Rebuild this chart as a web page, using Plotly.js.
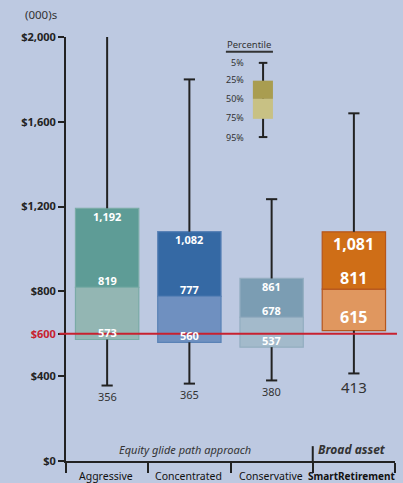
<!DOCTYPE html>
<html>
<head>
<meta charset="utf-8">
<script src="https://cdn.plot.ly/plotly-3.0.1.min.js"></script>
<style>html,body{margin:0;padding:0;background:#bdc9e1;}#chart{width:403px;height:483px;}</style>
</head>
<body>
<div id="chart"></div>
<script>
// ---- data ----
const categories = ['Aggressive', 'Concentrated', 'Conservative', 'SmartRetirement'];
const categoryLabels = ['Aggressive', 'Concentrated', 'Conservative', '<b>SmartRetirement</b>'];
const p5  = [2000, 1800, 1235, 1640];   // top whisker
const p25 = [1192, 1082, 861, 1081];    // box top
const p50 = [819, 777, 678, 811];       // median
const p75 = [573, 560, 537, 615];       // box bottom
const p95 = [356, 365, 380, 413];       // bottom whisker
const yTickVals = [0, 400, 600, 800, 1200, 1600, 2000];
const yTickText = ['$0', '$400', '<span style="color:#c8202f">$600</span>', '$800', '$1,200', '$1,600', '$2,000'];
const threshold = 600;
const legendLabels = ['5%', '25%', '50%', '75%', '95%'];

// ---- styles ----
const upperColors = ['#5e9c96', '#3569a4', '#7b9db3', '#cf6e17'];
const lowerColors = ['#93b6b3', '#6f90c0', '#a3bacb', '#e0975f'];
const lineColors  = ['#7aaba6', '#5a82b6', '#93adc0', '#b5561c'];
const font = 'Noto Sans, sans-serif';
const dark = '#222';
const yMax = 2000;

const fmt = v => v.toLocaleString('en-US');

const traces = [];
traces.push({
  type: 'bar', x: categories, base: p75, y: p50.map((v, i) => v - p75[i]),
  width: 0.77, marker: {color: lowerColors, line: {color: lineColors, width: 1.2}},
  hoverinfo: 'skip', showlegend: false
});
traces.push({
  type: 'bar', x: categories, base: p50, y: p25.map((v, i) => v - p50[i]),
  width: 0.77, marker: {color: upperColors, line: {color: lineColors, width: 1.2}},
  hoverinfo: 'skip', showlegend: false
});
// whiskers
const wx = [], wy = [];
categories.forEach((c, i) => {
  wx.push(c, c, null, c, c, null);
  wy.push(p95[i], p75[i], null, p25[i], p5[i], null);
});
traces.push({type: 'scatter', mode: 'lines', x: wx, y: wy, line: {color: dark, width: 2}, hoverinfo: 'skip', showlegend: false});
// caps
const cx = [], cy = [];
categories.forEach((c, i) => {
  cx.push(c); cy.push(p95[i]);
  if (p5[i] < yMax) { cx.push(c); cy.push(p5[i]); }
});
traces.push({type: 'scatter', mode: 'markers', x: cx, y: cy,
  marker: {symbol: 'line-ew', size: 8, line: {color: dark, width: 2}}, hoverinfo: 'skip', showlegend: false});

const annotations = [];
const ann = o => annotations.push(Object.assign({showarrow: false, xanchor: 'center', yanchor: 'middle'}, o));
categories.forEach((c, i) => {
  const big = i === 3;
  const fs = big ? 16 : 11;
  const wf = {family: font, size: fs, color: '#fff'};
  ann({x: c, y: p25[i], text: '<b>' + fmt(p25[i]) + '</b>', font: wf, yshift: big ? -12 : -8});
  ann({x: c, y: p50[i], text: '<b>' + fmt(p50[i]) + '</b>', font: wf, yshift: big ? 11 : 7});
  ann({x: c, y: p75[i], text: '<b>' + fmt(p75[i]) + '</b>', font: wf, yshift: big ? 14 : 7});
  ann({x: c, y: p95[i], text: fmt(p95[i]), font: {family: font, size: big ? 15 : 11, color: '#333'}, yshift: big ? -14 : -11});
  ann({x: c, xref: 'x', y: -0.035, yref: 'paper', text: categoryLabels[i],
    font: {family: font, size: big ? 10 : 10.5, color: '#111'}, xshift: big ? -2 : -1});
});
ann({x: -0.076, y: 1.052, xref: 'paper', yref: 'paper', text: '(000)s', font: {family: font, size: 11.5, color: '#333'}});
ann({x: 0.362, y: 0.026, xref: 'paper', yref: 'paper', text: '<i>Equity glide path approach</i>', font: {family: font, size: 11, color: '#333'}});
ann({x: 0.869, y: 0.027, xref: 'paper', yref: 'paper', text: '<b><i>Broad asset</i></b>', font: {family: font, size: 12, color: '#333'}});
// legend labels
ann({x: 0.556, y: 0.983, xref: 'paper', yref: 'paper', text: 'Percentile', font: {family: font, size: 9.5, color: '#333'}});
const legY = [0.939, 0.899, 0.854, 0.809, 0.764];
legendLabels.forEach((t, k) => {
  ann({x: 0.547, y: legY[k], xref: 'paper', yref: 'paper', text: t, xanchor: 'right', font: {family: font, size: 9, color: '#333'}});
});

const shapes = [
  // red threshold line
  {type: 'line', xref: 'paper', yref: 'y', x0: -0.02, x1: 1.006, y0: threshold, y1: threshold,
   line: {color: '#c8202f', width: 2}, layer: 'above'},
  // broad-asset separator extension
  {type: 'line', xref: 'x', yref: 'paper', x0: 2.5, x1: 2.5, y0: 0, y1: 0.035, line: {color: dark, width: 2}},
  // legend box
  {type: 'line', xref: 'paper', yref: 'paper', x0: 0.486, x1: 0.629, y0: 0.965, y1: 0.965, line: {color: '#333', width: 2}},
  {type: 'line', xref: 'paper', yref: 'paper', x0: 0.599, x1: 0.599, y0: 0.764, y1: 0.939, line: {color: dark, width: 2}},
  {type: 'line', xref: 'paper', yref: 'paper', x0: 0.586, x1: 0.612, y0: 0.939, y1: 0.939, line: {color: dark, width: 2}},
  {type: 'line', xref: 'paper', yref: 'paper', x0: 0.586, x1: 0.612, y0: 0.764, y1: 0.764, line: {color: dark, width: 2}},
  {type: 'rect', xref: 'paper', yref: 'paper', x0: 0.568, x1: 0.629, y0: 0.854, y1: 0.897, fillcolor: '#a99d50', line: {width: 0}},
  {type: 'rect', xref: 'paper', yref: 'paper', x0: 0.568, x1: 0.629, y0: 0.807, y1: 0.854, fillcolor: '#c8c184', line: {width: 0}}
];

const layout = {
  width: 403, height: 483,
  margin: {l: 66, r: 8, t: 37, b: 22},
  paper_bgcolor: '#bdc9e1', plot_bgcolor: '#bdc9e1',
  barmode: 'overlay', showlegend: false,
  font: {family: font, color: dark},
  xaxis: {type: 'category', categoryarray: categories, range: [-0.5, 3.5],
    showline: true, linecolor: dark, linewidth: 2, ticks: 'outside', tickson: 'boundaries',
    ticklen: 10, tickwidth: 2, tickcolor: dark, showticklabels: false, showgrid: false, zeroline: false, fixedrange: true},
  yaxis: {range: [0, yMax], tickmode: 'array', tickvals: yTickVals, ticktext: yTickText,
    showline: true, linecolor: dark, linewidth: 2, ticks: 'outside', ticklen: 6, tickwidth: 2, tickcolor: dark,
    tickfont: {family: font, size: 11, color: dark, weight: 'bold'}, showgrid: false, zeroline: false, fixedrange: true},
  annotations: annotations,
  shapes: shapes
};

Plotly.newPlot('chart', traces, layout, {displayModeBar: false, staticPlot: true});
</script>
</body>
</html>
